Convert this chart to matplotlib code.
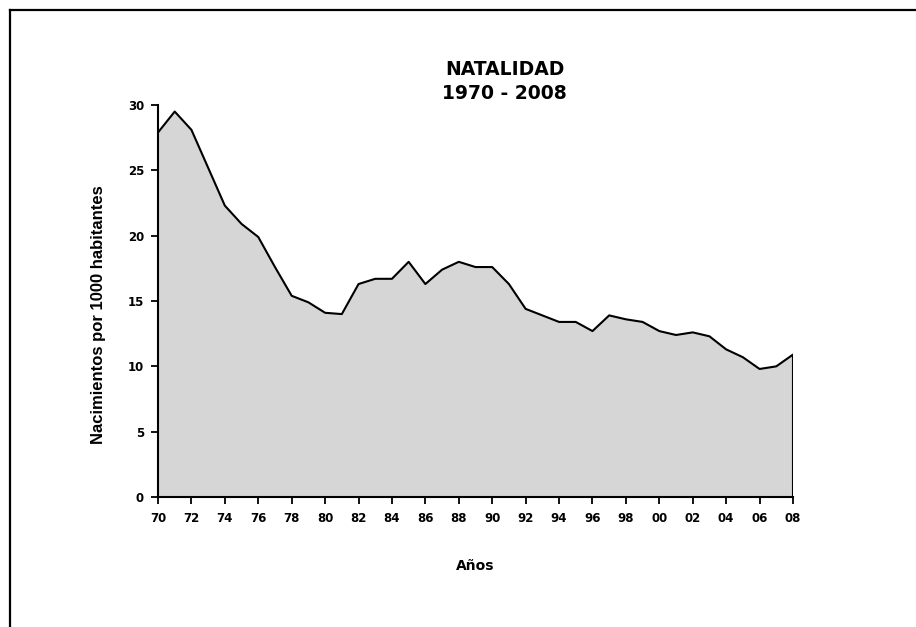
import matplotlib
matplotlib.use("Agg")
import matplotlib.pyplot as plt
from matplotlib.lines import Line2D

# Tasa de natalidad 1970 - 2008 (nacimientos por 1000 habitantes)
years = list(range(1970, 2009))
births = [27.9, 29.5, 28.1, 25.2, 22.3, 20.9, 19.9, 17.6, 15.4, 14.9,
          14.1, 14.0, 16.3, 16.7, 16.7, 18.0, 16.3, 17.4, 18.0, 17.6,
          17.6, 16.3, 14.4, 13.9, 13.4, 13.4, 12.7, 13.9, 13.6, 13.4,
          12.7, 12.4, 12.6, 12.3, 11.3, 10.7, 9.8, 10.0, 10.9]
x_ticks = list(range(1970, 2009, 2))
x_labels = ["%02d" % (y % 100) for y in x_ticks]
y_ticks = [0, 5, 10, 15, 20, 25, 30]

fig = plt.figure(figsize=(9.16, 6.27), dpi=100)
ax = fig.add_axes([0.1725, 0.2073, 0.6932, 0.6252])

ax.fill_between(years, births, 0, facecolor="#d6d6d6", edgecolor="none")
ax.plot(years + [years[-1]], births + [0], color="black", lw=1.5)

ax.set_xlim(years[0], years[-1])
ax.set_ylim(0, 30)
ax.set_xticks(x_ticks)
ax.set_xticklabels(x_labels)
ax.set_yticks(y_ticks)

for s in ["top", "right"]:
    ax.spines[s].set_visible(False)
for s in ["left", "bottom"]:
    ax.spines[s].set_linewidth(1.5)

ax.tick_params(direction="out", length=5, width=1.3)
ax.tick_params(axis="y", pad=5)
ax.tick_params(axis="x", pad=6)
for lab in ax.get_xticklabels() + ax.get_yticklabels():
    lab.set_fontfamily("DejaVu Sans")
    lab.set_fontweight("bold")
    lab.set_fontsize(8.5)

ax.set_ylabel("Nacimientos por 1000 habitantes", fontfamily="Liberation Sans",
              fontweight="bold", fontsize=12)
ax.yaxis.set_label_coords(-0.082, 0.465)
ax.set_xlabel("Años", fontfamily="DejaVu Sans", fontweight="bold", fontsize=10,
              labelpad=24)

fig.text(0.551, 0.870, "NATALIDAD\n1970 - 2008", ha="center", va="center",
         fontfamily="DejaVu Sans", fontweight="bold", fontsize=13.5, linespacing=1.35)

# marco de la hoja (solo arriba e izquierda)
fig.add_artist(Line2D([10 / 916, 1], [1 - 10 / 627, 1 - 10 / 627],
                      color="black", lw=1.6, transform=fig.transFigure))
fig.add_artist(Line2D([10 / 916, 10 / 916], [0, 1 - 10 / 627],
                      color="black", lw=1.6, transform=fig.transFigure))

fig.savefig("out.png", dpi=100)
